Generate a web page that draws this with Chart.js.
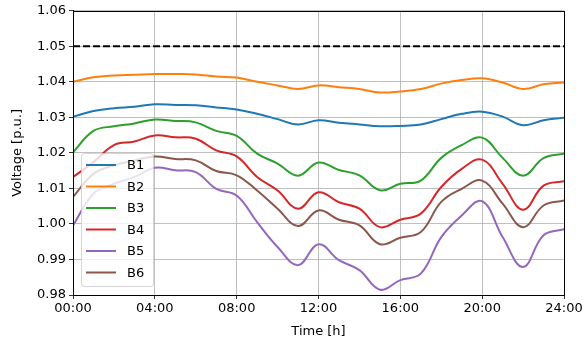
<!DOCTYPE html>
<html>
<head>
<meta charset="utf-8">
<script src="https://cdn.jsdelivr.net/npm/chart.js@4/dist/chart.umd.min.js"></script>
<style>
html, body { margin: 0; padding: 0; background: #fff; }
#wrap { width: 587px; height: 343px; position: relative; }
</style>
</head>
<body>
<div id="wrap"><canvas id="mycanvas"></canvas></div>
<script>
// hours of the day
var hours = [0,1,2,3,4,5,6,7,8,9,10,11,12,13,14,15,16,17,18,19,20,21,22,23,24];
var xTicks = [0,4,8,12,16,20,24];
var yTicks = [0.98,0.99,1.00,1.01,1.02,1.03,1.04,1.05,1.06];
var limit = 1.05;

var B1 = [1.0302,1.0318,1.0326,1.0330,1.0337,1.0335,1.0334,1.0328,1.0322,1.0310,1.0295,1.0280,1.0292,1.0285,1.0280,1.0275,1.0276,1.0280,1.0295,1.0310,1.0316,1.0302,1.0278,1.0292,1.0299];
var B2 = [1.0400,1.0413,1.0418,1.0420,1.0422,1.0422,1.0421,1.0415,1.0412,1.0400,1.0390,1.0380,1.0390,1.0385,1.0380,1.0370,1.0373,1.0380,1.0395,1.0405,1.0410,1.0398,1.0380,1.0393,1.0398];
var B3 = [1.0202,1.0262,1.0275,1.0283,1.0294,1.0290,1.0286,1.0262,1.0248,1.0198,1.0170,1.0136,1.0173,1.0152,1.0137,1.0095,1.0113,1.0122,1.0186,1.0222,1.0243,1.0186,1.0136,1.0185,1.0198];
var B4 = [1.0132,1.0174,1.0222,1.0232,1.0249,1.0244,1.0240,1.0207,1.0190,1.0132,1.0094,1.0043,1.0089,1.0061,1.0043,0.9991,1.0012,1.0029,1.0104,1.0155,1.0181,1.0113,1.0040,1.0108,1.0120];
var B5 = [0.9996,1.0085,1.0113,1.0132,1.0158,1.0151,1.0146,1.0099,1.0080,1.0005,0.9935,0.9884,0.9943,0.9898,0.9870,0.9815,0.9842,0.9860,0.9963,1.0024,1.0064,0.9963,0.9879,0.9968,0.9985];
var B6 = [1.0076,1.0141,1.0165,1.0179,1.0190,1.0183,1.0179,1.0149,1.0137,1.0094,1.0043,0.9994,1.0038,1.0012,0.9996,0.9943,0.9961,0.9977,1.0062,1.0099,1.0122,1.0057,0.9991,1.0052,1.0066];

var names = ["B1","B2","B3","B4","B5","B6"];
var colors = ["#1f77b4","#ff7f0e","#2ca02c","#d62728","#9467bd","#8c564b"];
var series = [B1,B2,B3,B4,B5,B6];

function toPoints(vals) {
	var pts = [];
	for (var i in vals) {
		pts.push({x: hours[i], y: vals[i]});
	}
	return pts;
}

var datasets = [];
for (var i in series) {
	datasets.push({
		label: names[i],
		data: toPoints(series[i]),
		borderColor: colors[i],
		backgroundColor: colors[i],
		borderWidth: 2,
		pointRadius: 0,
		fill: false,
		tension: 0.4
	});
}
datasets.push({
	label: "limit",
	data: [{x: hours[0], y: limit}, {x: hours[hours.length - 1], y: limit}],
	borderColor: "#000",
	borderWidth: 2,
	borderDash: [7, 3],
	pointRadius: 0,
	fill: false
});

// frame around the plot area + legend box inside
var framePlugin = {
	id: 'frame',
	afterDraw: function(chart) {
		var ctx = chart.ctx, a = chart.chartArea;
		ctx.save();
		ctx.strokeStyle = "#000";
		ctx.lineWidth = 1;
		ctx.strokeRect(Math.round(a.left) + 0.5, Math.round(a.top) + 0.5, Math.round(a.right - a.left), Math.round(a.bottom - a.top));

		// legend
		var bx = 81, by = 153, bw = 72, bh = 133;
		ctx.beginPath();
		ctx.roundRect(bx + 0.5, by + 0.5, bw, bh, 3);
		ctx.fillStyle = "rgba(255,255,255,0.8)";
		ctx.fill();
		ctx.strokeStyle = "rgba(204,204,204,0.8)";
		ctx.lineWidth = 1;
		ctx.stroke();
		ctx.font = "13px 'DejaVu Sans'";
		ctx.textBaseline = "middle";
		for (var k = 0; k < names.length; k++) {
			var yy = 165 + k * 21.5;
			ctx.strokeStyle = colors[k];
			ctx.lineWidth = 2;
			ctx.beginPath();
			ctx.moveTo(86, yy);
			ctx.lineTo(116, yy);
			ctx.stroke();
			ctx.fillStyle = "#000";
			ctx.fillText(names[k], 127, yy + 1);
		}
		ctx.restore();
	}
};

var ctx = document.getElementById("mycanvas");
Chart.defaults.font.family = "'DejaVu Sans'";
Chart.defaults.color = "#000";

var LineGraph = new Chart(ctx, {
	type: 'line',
	data: { datasets: datasets },
	plugins: [framePlugin],
	options: {
		responsive: true,
		maintainAspectRatio: false,
		animation: false,
		layout: { padding: { top: 10, right: 23, left: 0, bottom: 0 } },
		plugins: {
			legend: { display: false },
			tooltip: { enabled: false }
		},
		scales: {
			x: {
				type: 'linear',
				min: 0,
				max: 24,
				afterBuildTicks: function(scale) {
					scale.ticks = xTicks.map(function(v) { return {value: v}; });
				},
				afterFit: function(scale) { scale.height = 48; },
				ticks: {
					font: { size: 13 },
					padding: 2,
					maxRotation: 0,
					callback: function(v) { return (v < 10 ? "0" : "") + v + ":00"; }
				},
				grid: { color: "#b0b0b0", lineWidth: 0.8, tickColor: "#000", tickLength: 4 },
				border: { color: "#000", width: 1 },
				title: { display: true, text: "Time [h]", font: { size: 13 }, padding: { top: 0, bottom: 4 } }
			},
			y: {
				min: 0.98,
				max: 1.06,
				afterBuildTicks: function(scale) {
					scale.ticks = yTicks.map(function(v) { return {value: v}; });
				},
				afterFit: function(scale) { scale.width = 73; },
				ticks: {
					font: { size: 13 },
					padding: 3,
					callback: function(v) { return v.toFixed(2); }
				},
				grid: { color: "#b0b0b0", lineWidth: 0.8, tickColor: "#000", tickLength: 4 },
				border: { color: "#000", width: 1 },
				title: { display: true, text: "Voltage [p.u.]", font: { size: 13 }, padding: { top: 10, bottom: 0 } }
			}
		}
	}
});
</script>
</body>
</html>
